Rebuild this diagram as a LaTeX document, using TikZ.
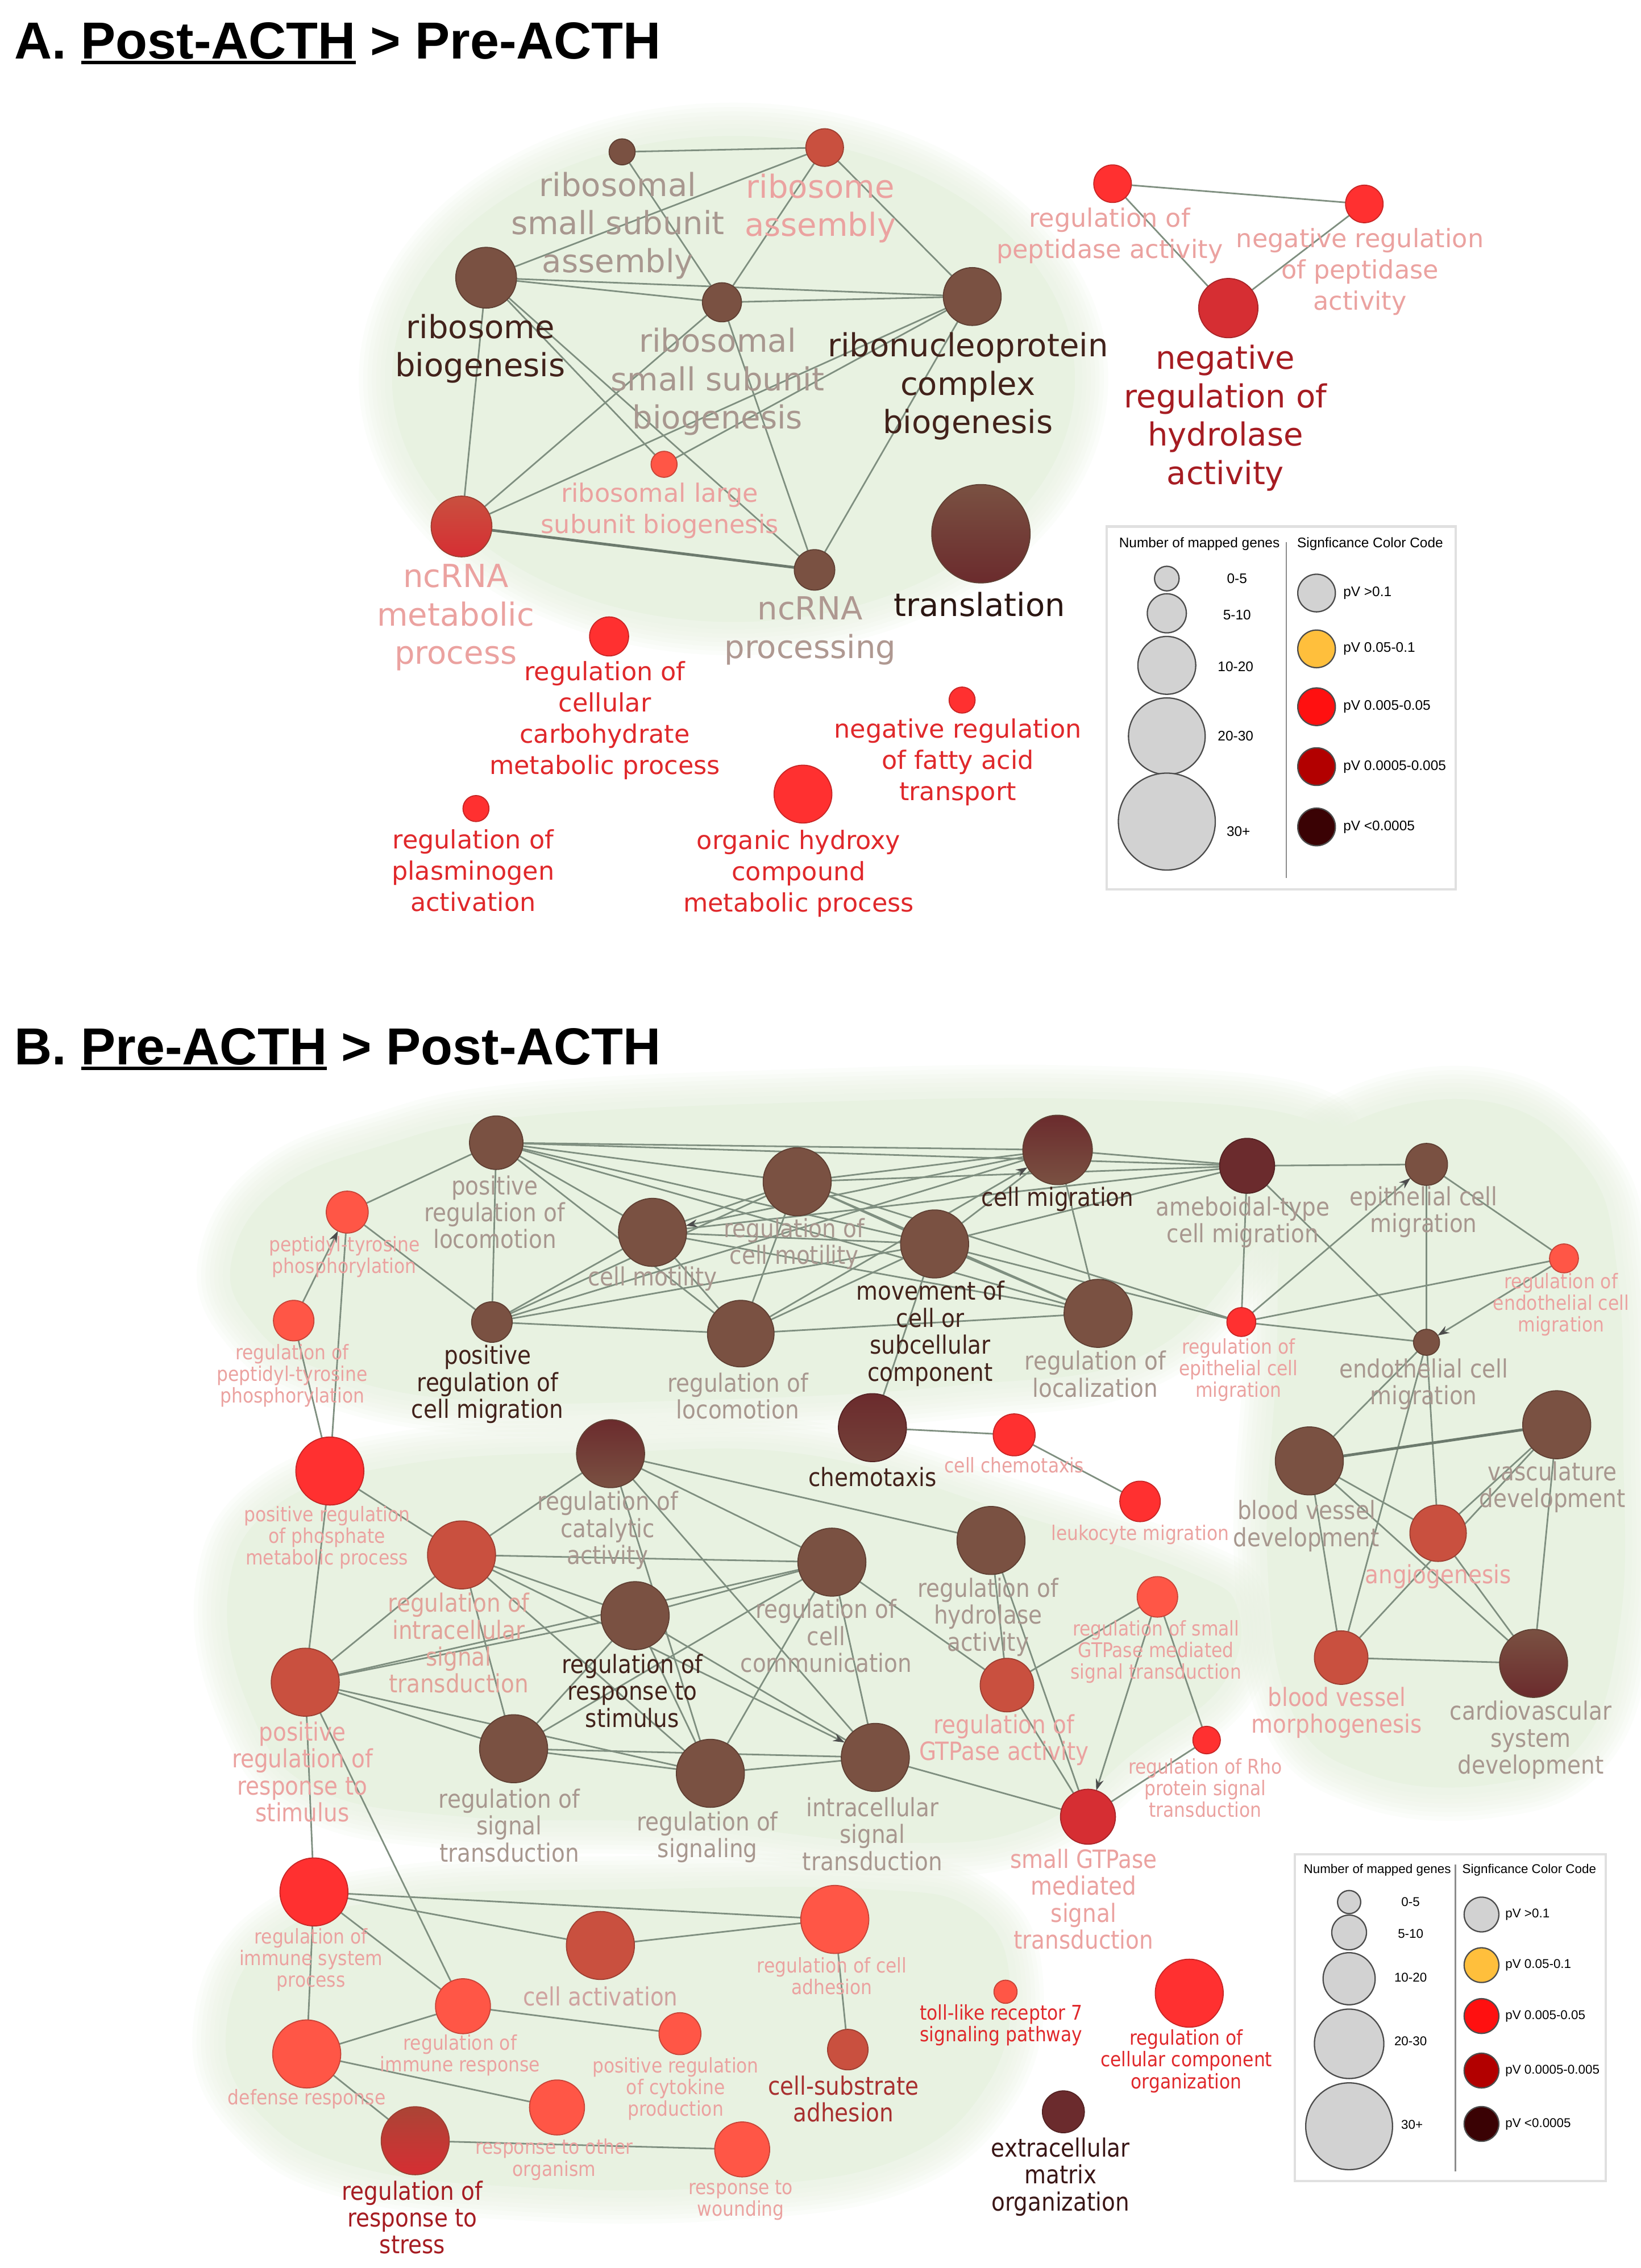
\documentclass[tikz,border=0pt]{standalone}
\usepackage{fontspec}
\usetikzlibrary{arrows.meta}
\newfontfamily\fA{DejaVu Sans}
\newfontfamily\fB[FakeStretch=0.88]{DejaVu Sans}
\newfontfamily\fT{Liberation Sans}
\newfontfamily\fL{Liberation Sans}
\definecolor{cBrown}{HTML}{7A5142}
\definecolor{cMaroon}{HTML}{6B2B2D}
\definecolor{cRB}{HTML}{C9503F}
\definecolor{cRed}{HTML}{FF3030}
\definecolor{cLR}{HTML}{FF5646}
\definecolor{cDR}{HTML}{D62E33}
\definecolor{tTaupe}{HTML}{A8978F}
\definecolor{tDark}{HTML}{42221B}
\definecolor{tDark2}{HTML}{3A1616}
\definecolor{tPink}{HTML}{EBA2A0}
\definecolor{tPink2}{HTML}{E2A39A}
\definecolor{tCA}{HTML}{CFA3A0}
\definecolor{tRed}{HTML}{E0282B}
\definecolor{tDR}{HTML}{A61C22}
\definecolor{tDR2}{HTML}{A83030}
\definecolor{cEdge}{HTML}{7F8F80}
\definecolor{cBlob}{HTML}{E8F2E1}
\definecolor{legGrey}{HTML}{D2D2D2}
\definecolor{legOr}{HTML}{FFBF3C}
\definecolor{legR}{HTML}{FF1010}
\definecolor{legDR}{HTML}{B20000}
\definecolor{legK}{HTML}{3A0204}
\pgfdeclarelayer{bglayer}
\pgfdeclarelayer{edgelayer}
\pgfsetlayers{bglayer,edgelayer,main}
\newcommand\ulw[1]{\setbox0\hbox{#1}\rlap{\rule[-3.8pt]{\wd0}{2.2pt}}\box0\relax}
\def\BA{(507,262) ellipse [x radius=236pt, y radius=168pt]}
\def\BBa{plot[smooth cycle, tension=0.7] coordinates {(160,872) (192,822) (264,792) (360,772) (560,762) (760,760) (898,772) (914,805) (872,856) (792,936) (660,958) (480,968) (320,968) (220,946) (174,914)}}
\def\BBb{plot[smooth cycle, tension=0.7] coordinates {(158,1098) (192,1040) (282,1012) (420,1004) (560,1006) (700,1046) (820,1086) (856,1114) (844,1166) (786,1210) (716,1262) (620,1274) (470,1260) (320,1256) (217,1236) (172,1180)}}
\def\BBc{plot[smooth cycle, tension=0.7] coordinates {(156,1408) (188,1340) (282,1312) (450,1306) (600,1306) (672,1320) (698,1370) (682,1442) (618,1494) (500,1512) (360,1512) (246,1498) (182,1464)}}
\def\BBd{plot[smooth cycle, tension=0.7] coordinates {(890,832) (935,776) (1030,762) (1096,806) (1118,880) (1122,1000) (1120,1120) (1093,1206) (1028,1234) (944,1226) (893,1183) (876,1080) (882,950)}}
\tikzset{
  every node/.style={inner sep=0pt, outer sep=0pt},
  nd/.style 2 args={circle, minimum size=#2, fill=#1, draw=#1!78!black, line width=0.7},
  edge/.style={cEdge, line width=1.1},
  tedge/.style={cEdge!85!black, line width=1.9},
  arr/.style={cEdge, line width=1.1, -{Stealth[length=8pt,width=5.5pt,color=black!70]}},
  la/.style={align=center, font=\fA\fontsize{22}{26.5}\selectfont},
  lsa/.style={align=center, font=\fA\fontsize{17.5}{21.6}\selectfont},
  lb/.style={align=center, font=\fB\fontsize{17.4}{18.6}\selectfont},
  lsb/.style={align=center, font=\fB\fontsize{14}{15}\selectfont},
  ttl/.style={anchor=base west, font=\fT\bfseries\fontsize{36}{40}\selectfont},
  legbox/.style={draw=black!12, line width=1.6},
  legdiv/.style={draw=black!45, line width=0.9},
  lgc/.style 2 args={circle, minimum size=#2, fill=#1, draw=black!70, line width=0.9},
  lgA/.style={font=\fL\fontsize{9.6}{11}\selectfont},
  lgB/.style={font=\fL\fontsize{8.8}{10}\selectfont},
}
\begin{document}
\begin{tikzpicture}[x=1pt,y=-1pt]
\useasboundingbox (0,0) rectangle (1134,1568);

% ---------- soft green backgrounds ----------
\begin{pgfonlayer}{bglayer}
\fill[white] (0,0) rectangle (1134,1568);
\foreach \w in {46,40,34,28,22,16,10}{
  \draw[cBlob, line width=\w, opacity=0.15] \BA;
  \draw[cBlob, line width=\w, opacity=0.15] \BBa;
  \draw[cBlob, line width=\w, opacity=0.15] \BBb;
  \draw[cBlob, line width=\w, opacity=0.15] \BBc;
  \draw[cBlob, line width=\w, opacity=0.15] \BBd;
}
\fill[cBlob] \BA;
\fill[cBlob] \BBa;
\fill[cBlob] \BBb;
\fill[cBlob] \BBc;
\fill[cBlob] \BBd;
\end{pgfonlayer}

% ---------- titles ----------
\node[ttl] (tA) at (10,40.5) {A. \ulw{Post-ACTH} > Pre-ACTH};
\node[ttl] (tB) at (10,736) {B. \ulw{Pre-ACTH} > Post-ACTH};

% ---------- panel A nodes ----------
\node[nd={cBrown}{18}] (a1) at (430,105) {};
\node[nd={cRB}{26}] (a2) at (570,102) {};
\node[nd={cBrown}{42}] (a3) at (336,192) {};
\node[nd={cBrown}{27}] (a4) at (499,209) {};
\node[nd={cBrown}{40}] (a5) at (672,205) {};
\node[nd={cLR}{18}] (a6) at (459,321) {};
\node[nd={cRB}{42}, top color=cRB, bottom color=cDR] (a7) at (319,364) {};
\node[nd={cBrown}{28}] (a8) at (563,394) {};
\node[nd={cBrown}{68}, shading angle=35, top color=cBrown, bottom color=cMaroon] (a9) at (678,369) {};
\node[nd={cRed}{26}] (a10) at (769,127) {};
\node[nd={cRed}{26}] (a11) at (943,141) {};
\node[nd={cDR}{41}] (a12) at (849,213) {};
\node[nd={cRed}{27}] (a13) at (421,440) {};
\node[nd={cRed}{18}] (a14) at (665,484) {};
\node[nd={cRed}{18}] (a15) at (329,559) {};
\node[nd={cRed}{40}] (a16) at (555,549) {};

% ---------- panel B nodes ----------
\node[nd={cBrown}{37}] (prl) at (343,790) {};
\node[nd={cLR}{29}] (ptp) at (240,838) {};
\node[nd={cLR}{28}] (rptp) at (203,913) {};
\node[nd={cBrown}{28}] (prcm) at (340,914) {};
\node[nd={cBrown}{47}] (cmot) at (451,852) {};
\node[nd={cBrown}{47}] (rcm) at (551,817) {};
\node[nd={cBrown}{46}] (rl) at (512,922) {};
\node[nd={cBrown}{47}] (mov) at (646,860) {};
\node[nd={cBrown}{48}, top color=cMaroon, bottom color=cBrown] (cmig) at (731,795) {};
\node[nd={cMaroon}{38}] (ameb) at (862,806) {};
\node[nd={cBrown}{29}] (ecm) at (986,805) {};
\node[nd={cLR}{20}] (rencm) at (1081,870) {};
\node[nd={cRed}{20}] (repcm) at (858,914) {};
\node[nd={cBrown}{18}] (encm) at (986,928) {};
\node[nd={cBrown}{47}] (rloc) at (759,908) {};
\node[nd={cMaroon}{47}, top color=cMaroon, bottom color=cBrown!60!cMaroon] (chem) at (603,987) {};
\node[nd={cRed}{29}] (cchem) at (701,992) {};
\node[nd={cRed}{28}] (leuk) at (788,1038) {};
\node[nd={cRed}{47}] (prpm) at (228,1017) {};
\node[nd={cBrown}{47}, top color=cMaroon, bottom color=cBrown] (rca) at (422,1005) {};
\node[nd={cRB}{47}] (rist) at (319,1075) {};
\node[nd={cBrown}{47}] (rha) at (685,1065) {};
\node[nd={cBrown}{47}] (rrs) at (439,1117) {};
\node[nd={cBrown}{47}] (rcc) at (575,1080) {};
\node[nd={cLR}{28}] (rsg) at (800,1104) {};
\node[nd={cRB}{37}] (rga) at (696,1165) {};
\node[nd={cRB}{47}] (prrs) at (211,1163) {};
\node[nd={cBrown}{47}] (rst) at (355,1209) {};
\node[nd={cBrown}{47}] (rsig) at (491,1226) {};
\node[nd={cBrown}{47}] (ist) at (605,1215) {};
\node[nd={cRed}{19}] (rrho) at (834,1203) {};
\node[nd={cDR}{38}] (sgt) at (752,1256) {};
\node[nd={cRed}{47}] (risp) at (217,1308) {};
\node[nd={cRB}{47}] (ca) at (415,1345) {};
\node[nd={cLR}{47}] (rcad) at (577,1327) {};
\node[nd={cLR}{38}] (rir) at (320,1387) {};
\node[nd={cLR}{29}] (prcp) at (470,1406) {};
\node[nd={cRB}{28}] (csa) at (586,1417) {};
\node[nd={cLR}{47}] (def) at (212,1420) {};
\node[nd={cLR}{38}] (rto) at (385,1457) {};
\node[nd={cRB}{47}, top color=cRB!85!black, bottom color=cDR] (rrss) at (287,1480) {};
\node[nd={cLR}{38}] (rtw) at (513,1486) {};
\node[nd={cLR}{16}] (tlr) at (695,1377) {};
\node[nd={cRed}{47}] (rcco) at (822,1378) {};
\node[nd={cMaroon}{29}] (ecmo) at (735,1460) {};
\node[nd={cBrown}{47}] (bvd) at (905,1010) {};
\node[nd={cBrown}{47}] (vd) at (1076,985) {};
\node[nd={cRB}{39}] (ang) at (994,1060) {};
\node[nd={cRB}{37}] (bvm) at (927,1146) {};
\node[nd={cBrown}{47}, shading angle=35, top color=cBrown, bottom color=cMaroon] (csd) at (1060,1150) {};

\begin{pgfonlayer}{edgelayer}
% ---------- edges A ----------
\foreach \u/\v in {a1/a2, a1/a4, a2/a3, a2/a4, a2/a5, a3/a4, a3/a5, a4/a5, a3/a7, a3/a6, a3/a8, a4/a7, a4/a8, a5/a7, a5/a6, a5/a8, a10/a11, a10/a12, a11/a12}
  \draw[edge] (\u) -- (\v);
\draw[tedge] (a7) -- (a8);

% ---------- edges B ----------
\foreach \u/\v in {prl/ptp, prl/prcm, prl/cmot, prl/rcm, prl/rl, prl/mov, prl/cmig, prl/ameb, prl/rloc,
  ptp/prcm, prpm/ptp, rptp/prpm,
  prcm/cmot, prcm/rcm, prcm/rl, prcm/mov, prcm/cmig,
  cmot/rcm, cmot/rl, cmot/mov, cmot/rloc, cmot/ameb,
  rcm/cmig, rcm/rl, rcm/mov, rcm/rloc, rcm/repcm, rcm/ameb,
  rl/mov, rl/rloc,
  mov/cmig, mov/rloc, mov/chem, mov/ameb, mov/repcm,
  cmig/ameb, cmig/rloc,
  ameb/ecm, ameb/repcm, ameb/encm,
  ecm/rencm, ecm/encm, rencm/repcm, repcm/encm,
  encm/bvd, encm/ang, encm/bvm,
  bvd/ang, bvd/bvm, bvd/csd, vd/ang, vd/bvm, vd/csd, ang/csd, bvm/csd,
  chem/cchem, cchem/leuk,
  prpm/rist, prpm/prrs,
  rca/rist, rca/rha, rca/rcc, rca/ist, rca/rsig,
  rist/rcc, rist/rrs, rist/rst, rist/rsig, rist/prrs,
  rrs/rcc, rrs/rst, rrs/rsig, rrs/ist, rrs/prrs,
  rcc/rst, rcc/rsig, rcc/ist, rcc/rga, rcc/prrs,
  rha/rga, rha/sgt,
  rsg/rga, rsg/rrho, rrho/sgt, ist/sgt, rga/sgt,
  prrs/rst, prrs/rsig, prrs/risp, prrs/rir,
  rst/rsig, rst/ist, rsig/ist,
  risp/rcad, risp/ca, risp/rir, risp/def, ca/rcad, rir/def, rir/prcp, def/rto, def/rrss, rrss/rtw, rcad/csa}
  \draw[edge] (\u) -- (\v);
\draw[tedge] (bvd) -- (vd);
\foreach \u/\v in {rptp/ptp, cmig/cmot, rl/cmig, repcm/ecm, rencm/encm, rist/ist, rsg/sgt}
  \draw[arr] (\u) -- (\v);
% legend frames
\draw[legbox, fill=white] (765,364) rectangle (1006,615);
\draw[legdiv] (889,375) -- (889,607);
\draw[legbox, fill=white] (895,1282) rectangle (1110,1508);
\draw[legdiv] (1006,1289) -- (1006,1501);
\end{pgfonlayer}

% ---------- labels A ----------
\node[la, text=tTaupe] (La1) at (427,156) {ribosomal\\small subunit\\assembly};
\node[la, text=tPink] (La2) at (567,144) {ribosome\\assembly};
\node[la, text=tDark] (La3) at (332,241) {ribosome\\biogenesis};
\node[la, text=tTaupe] (La4) at (496,264) {ribosomal\\small subunit\\biogenesis};
\node[la, text=tDark] (La5) at (669,267) {ribonucleoprotein\\complex\\biogenesis};
\node[lsa, text=tPink] (La6) at (456,353) {ribosomal large\\subunit biogenesis};
\node[la, text=tPink] (La7) at (315,427) {ncRNA\\metabolic\\process};
\node[la, text=tTaupe!90!tPink] (La8) at (560,436) {ncRNA\\processing};
\node[la, text=black!35!tDark] (La9) at (677,418) {translation};
\node[lsa, text=tPink] (La10) at (767,163) {regulation of\\peptidase activity};
\node[lsa, text=tPink] (La11) at (940,188) {negative regulation\\of peptidase\\activity};
\node[la, text=tDR] (La12) at (847,289) {negative\\regulation of\\hydrolase\\activity};
\node[lsa, text=tRed] (La13) at (418,498) {regulation of\\cellular\\carbohydrate\\metabolic process};
\node[lsa, text=tRed] (La14) at (662,527) {negative regulation\\of fatty acid\\transport};
\node[lsa, text=tRed] (La15) at (327,602) {regulation of\\plasminogen\\activation};
\node[lsa, text=tRed] (La16) at (552,604) {organic hydroxy\\compound\\metabolic process};

% ---------- labels B ----------
\node[lb, text=tTaupe] (Lprl) at (342,838) {positive\\regulation of\\locomotion};
\node[lsb, text=tPink] (Lptp) at (238,869) {peptidyl-tyrosine\\phosphorylation};
\node[lsb, text=tPink] (Lrptp) at (202,951) {regulation of\\peptidyl-tyrosine\\phosphorylation};
\node[lb, text=tDark] (Lprcm) at (337,957) {positive\\regulation of\\cell migration};
\node[lb, text=tTaupe] (Lcmot) at (451,884) {cell motility};
\node[lb, text=tTaupe] (Lrcm) at (549,860) {regulation of\\cell motility};
\node[lb, text=tTaupe] (Lrl) at (510,965) {regulation of\\locomotion};
\node[lb, text=tDark] (Lmov) at (643,922) {movement of\\cell or\\subcellular\\component};
\node[lb, text=tDark] (Lcmig) at (731,829) {cell migration};
\node[lb, text=tTaupe] (Lameb) at (859,845) {ameboidal-type\\cell migration};
\node[lb, text=tTaupe] (Lecm) at (984,838) {epithelial cell\\migration};
\node[lsb, text=tPink] (Lrencm) at (1079,902) {regulation of\\endothelial cell\\migration};
\node[lsb, text=tPink] (Lrepcm) at (856,947) {regulation of\\epithelial cell\\migration};
\node[lb, text=tTaupe] (Lencm) at (984,957) {endothelial cell\\migration};
\node[lb, text=tTaupe] (Lrloc) at (757,950) {regulation of\\localization};
\node[lb, text=tDark] (Lchem) at (603,1021) {chemotaxis};
\node[lsb, text=tPink] (Lcchem) at (701,1013) {cell chemotaxis};
\node[lsb, text=tPink] (Lleuk) at (788,1061) {leukocyte migration};
\node[lsb, text=tPink] (Lprpm) at (226,1063) {positive regulation\\of phosphate\\metabolic process};
\node[lb, text=tTaupe] (Lrca) at (420,1058) {regulation of\\catalytic\\activity};
\node[lb, text=tPink2] (Lrist) at (317,1136) {regulation of\\intracellular\\signal\\transduction};
\node[lb, text=tDark] (Lrrs) at (437,1169) {regulation of\\response to\\stimulus};
\node[lb, text=tTaupe] (Lrcc) at (571,1131) {regulation of\\cell\\communication};
\node[lb, text=tTaupe] (Lrha) at (683,1118) {regulation of\\hydrolase\\activity};
\node[lsb, text=tPink] (Lrsg) at (799,1142) {regulation of small\\GTPase mediated\\signal transduction};
\node[lb, text=tPink] (Lrga) at (694,1203) {regulation of\\GTPase activity};
\node[lb, text=tPink] (Lprrs) at (209,1225) {positive\\regulation of\\response to\\stimulus};
\node[lb, text=tTaupe] (Lrst) at (352,1262) {regulation of\\signal\\transduction};
\node[lb, text=tTaupe] (Lrsig) at (489,1270) {regulation of\\signaling};
\node[lb, text=tTaupe] (List) at (603,1268) {intracellular\\signal\\transduction};
\node[lsb, text=tPink] (Lrrho) at (833,1236) {regulation of Rho\\protein signal\\transduction};
\node[lb, text=tPink] (Lsgt) at (749,1313) {small GTPase\\mediated\\signal\\transduction};
\node[lb, text=tTaupe] (Lbvd) at (903,1055) {blood vessel\\development};
\node[lb, text=tTaupe] (Lvd) at (1073,1028) {vasculature\\development};
\node[lb, text=tPink] (Lang) at (994,1090) {angiogenesis};
\node[lb, text=tPink] (Lbvm) at (924,1184) {blood vessel\\morphogenesis};
\node[lb, text=tTaupe] (Lcsd) at (1058,1203) {cardiovascular\\system\\development};
\node[lsb, text=tPink] (Lrisp) at (215,1355) {regulation of\\immune system\\process};
\node[lb, text=tCA] (Lca) at (415,1380) {cell activation};
\node[lsb, text=tPink] (Lrcad) at (575,1366) {regulation of cell\\adhesion};
\node[lsb, text=tPink] (Lrir) at (318,1421) {regulation of\\immune response};
\node[lsb, text=tPink] (Lprcp) at (467,1444) {positive regulation\\of cytokine\\production};
\node[lb, text=tDR2] (Lcsa) at (583,1451) {cell-substrate\\adhesion};
\node[lsb, text=tPink] (Ldef) at (212,1451) {defense response};
\node[lsb, text=tPink] (Lrto) at (383,1493) {response to other\\organism};
\node[lb, text=tDR] (Lrrss) at (285,1533) {regulation of\\response to\\stress};
\node[lsb, text=tPink] (Lrtw) at (512,1521) {response to\\wounding};
\node[lsb, text=tRed] (Ltlr) at (692,1400) {toll-like receptor 7\\signaling pathway};
\node[lsb, text=tRed] (Lrcco) at (820,1425) {regulation of\\cellular component\\organization};
\node[lb, text=tDark2] (Lecmo) at (733,1505) {extracellular\\matrix\\organization};

% ---------- legend A ----------
\node[lgA] (gAh1) at (829,376) {Number of mapped genes};
\node[lgA] (gAh2) at (947,376) {Signficance Color Code};
\node[lgc={legGrey}{17}] (gAs1) at (806.5,400) {};
\node[lgc={legGrey}{27}] (gAs2) at (806.5,424) {};
\node[lgc={legGrey}{40}] (gAs3) at (806.5,460) {};
\node[lgc={legGrey}{53}] (gAs4) at (806.5,509) {};
\node[lgc={legGrey}{67}] (gAs5) at (806.5,568) {};
\node[lgA] (gAt1) at (855,400) {0-5};
\node[lgA] (gAt2) at (855,425) {5-10};
\node[lgA] (gAt3) at (854,461) {10-20};
\node[lgA] (gAt4) at (854,509) {20-30};
\node[lgA] (gAt5) at (856,575) {30+};
\node[lgc={legGrey}{26}] (gAc1) at (910,410) {};
\node[lgc={legOr}{26}] (gAc2) at (910,448.6) {};
\node[lgc={legR}{26}] (gAc3) at (910,488.6) {};
\node[lgc={legDR}{26}] (gAc4) at (910,530) {};
\node[lgc={legK}{26}] (gAc5) at (910,571.7) {};
\node[lgA, anchor=west] (gAv1) at (928.5,410) {pV >0.1};
\node[lgA, anchor=west] (gAv2) at (928.5,448.6) {pV 0.05-0.1};
\node[lgA, anchor=west] (gAv3) at (928.5,488.6) {pV 0.005-0.05};
\node[lgA, anchor=west] (gAv4) at (928.5,530) {pV 0.0005-0.005};
\node[lgA, anchor=west] (gAv5) at (928.5,571.7) {pV <0.0005};

% ---------- legend B ----------
\node[lgB] (gBh1) at (952,1293) {Number of mapped genes};
\node[lgB] (gBh2) at (1057,1293) {Signficance Color Code};
\node[lgc={legGrey}{16}] (gBs1) at (932.5,1315) {};
\node[lgc={legGrey}{24}] (gBs2) at (932.5,1336) {};
\node[lgc={legGrey}{36}] (gBs3) at (932.5,1368) {};
\node[lgc={legGrey}{48}] (gBs4) at (932.5,1413) {};
\node[lgc={legGrey}{60}] (gBs5) at (932.5,1470) {};
\node[lgB] (gBt1) at (975,1315) {0-5};
\node[lgB] (gBt2) at (975,1337) {5-10};
\node[lgB] (gBt3) at (975,1367) {10-20};
\node[lgB] (gBt4) at (975,1411) {20-30};
\node[lgB] (gBt5) at (976,1469) {30+};
\node[lgc={legGrey}{24}] (gBc1) at (1024,1323.6) {};
\node[lgc={legOr}{24}] (gBc2) at (1024,1358.6) {};
\node[lgc={legR}{24}] (gBc3) at (1024,1393.8) {};
\node[lgc={legDR}{24}] (gBc4) at (1024,1431.5) {};
\node[lgc={legK}{24}] (gBc5) at (1024,1468.4) {};
\node[lgB, anchor=west] (gBv1) at (1040.5,1323.6) {pV >0.1};
\node[lgB, anchor=west] (gBv2) at (1040.5,1358.6) {pV 0.05-0.1};
\node[lgB, anchor=west] (gBv3) at (1040.5,1393.8) {pV 0.005-0.05};
\node[lgB, anchor=west] (gBv4) at (1040.5,1431.5) {pV 0.0005-0.005};
\node[lgB, anchor=west] (gBv5) at (1040.5,1468.4) {pV <0.0005};
\end{tikzpicture}
\end{document}
